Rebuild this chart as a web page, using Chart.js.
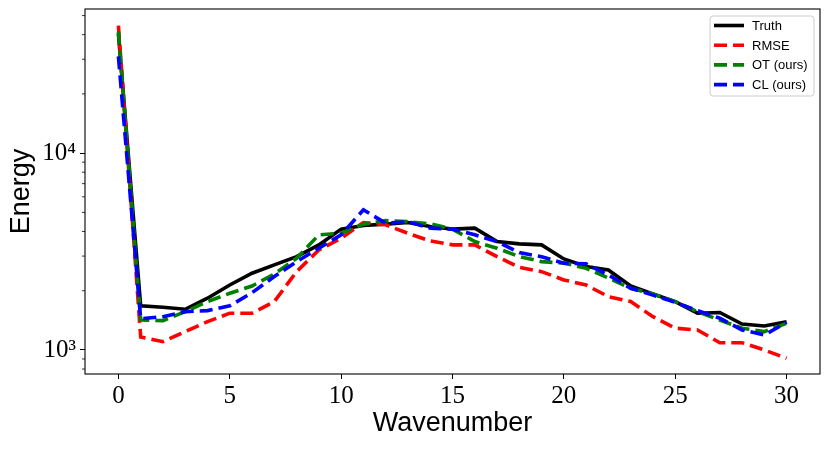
<!DOCTYPE html>
<html>
<head>
<meta charset="utf-8">
<script src="https://cdn.jsdelivr.net/npm/chart.js@4/dist/chart.umd.min.js"></script>
<style>
  body { margin: 0; background: #fff; }
  #wrap { width: 830px; height: 450px; }
</style>
</head>
<body>
<div id="wrap"><canvas id="energy-chart" width="830" height="450"></canvas></div>
<script>
// wavenumbers and energy spectra
const wavenumbers = [0,1,2,3,4,5,6,7,8,9,10,11,12,13,14,15,16,17,18,19,20,21,22,23,24,25,26,27,28,29,30];
const truth = [40500,1675,1650,1610,1832,2138,2454,2705,2979,3420,4111,4288,4357,4440,4237,4111,4160,3555,3459,3420,2900,2655,2550,2114,1926,1762,1538,1550,1355,1324,1393];
const rmse = [44400,1164,1102,1240,1393,1538,1538,1762,2500,3223,3699,4440,4324,3917,3580,3420,3420,2979,2631,2500,2270,2138,1866,1762,1476,1290,1264,1089,1089,1000,908];
const otOurs = [41500,1420,1409,1566,1762,1941,2114,2433,2924,3846,3917,4357,4543,4486,4374,4111,3555,3288,2979,2812,2761,2600,2318,2059,1926,1762,1566,1420,1290,1240,1367];
const clOurs = [31000,1440,1476,1566,1585,1675,1955,2360,2812,3288,3846,5154,4405,4486,4160,4111,3846,3555,3124,2979,2761,2738,2405,2059,1900,1745,1585,1449,1264,1192,1380];

const xTicks = [0,5,10,15,20,25,30];
const yMajorTicks = [1000,10000];
const yMinorTicks = [800,900,2000,3000,4000,5000,6000,7000,8000,9000,20000,30000,40000,50000];
const seriesNames = ["Truth","RMSE","OT (ours)","CL (ours)"];

const toPoints = (arr) => wavenumbers.map((x, i) => ({x: x, y: arr[i]}));

function makeSet(label, arr, color, dashed, order){
    return {
        label: label,
        data: toPoints(arr),
        borderColor: color,
        backgroundColor: color,
        borderWidth: 3.6,
        borderDash: dashed ? [13, 6] : [],
        pointRadius: 0,
        tension: 0,
        fill: false,
        order: order
    };
}

// axes frame, minor log ticks and the boxed legend inside the plot
const framePlugin = {
    id: 'frame',
    afterDatasetsDraw(chart){
        const {ctx, chartArea: a, scales} = chart;
        ctx.save();
        ctx.strokeStyle = '#000';
        ctx.lineWidth = 1.1;
        ctx.strokeRect(a.left, a.top, a.right - a.left, a.bottom - a.top);
        ctx.lineWidth = 0.8;
        for (const v of yMinorTicks){
            const y = scales.y.getPixelForValue(v);
            if (y < a.top || y > a.bottom) continue;
            ctx.beginPath();
            ctx.moveTo(a.left - 3, y);
            ctx.lineTo(a.left, y);
            ctx.stroke();
        }
        // legend
        const bx = 710, by = 16, bw = 104, bh = 80;
        ctx.fillStyle = 'rgba(255,255,255,0.85)';
        ctx.strokeStyle = '#cccccc';
        ctx.lineWidth = 1;
        ctx.beginPath();
        ctx.roundRect(bx, by, bw, bh, 3);
        ctx.fill();
        ctx.stroke();
        ctx.font = '13px "Liberation Sans", Arial, sans-serif';
        ctx.textBaseline = 'middle';
        ctx.textAlign = 'left';
        seriesNames.forEach((name, i) => {
            const ds = chart.data.datasets.find(d => d.label === name);
            const y = 25.5 + i * 19.7;
            ctx.strokeStyle = ds.borderColor;
            ctx.lineWidth = 3.6;
            ctx.setLineDash(ds.borderDash);
            ctx.beginPath();
            ctx.moveTo(714, y);
            ctx.lineTo(744, y);
            ctx.stroke();
            ctx.setLineDash([]);
            ctx.fillStyle = '#000';
            ctx.fillText(name, 752, y + 1);
        });
        ctx.restore();
    }
};

const config = {
    type: 'line',
    data: {
        datasets: [
            makeSet("Truth", truth, '#000000', false, 4),
            makeSet("RMSE", rmse, '#ff0000', true, 3),
            makeSet("OT (ours)", otOurs, '#008000', true, 2),
            makeSet("CL (ours)", clOurs, '#0000ff', true, 1)
        ]
    },
    options: {
        responsive: false,
        animation: false,
        layout: { padding: { top: 9, right: 10, left: 0, bottom: 0 } },
        plugins: { legend: { display: false }, tooltip: { enabled: false } },
        scales: {
            x: {
                type: 'linear',
                min: -1.5,
                max: 31.5,
                afterBuildTicks: (scale) => { scale.ticks = xTicks.map(v => ({value: v})); },
                afterFit: (scale) => { scale.height = 76; scale.paddingLeft = 0; scale.paddingRight = 0; },
                grid: { drawOnChartArea: false, tickLength: 5, color: '#000', tickWidth: 1 },
                border: { display: false },
                ticks: {
                    color: '#000',
                    padding: 2,
                    maxRotation: 0,
                    font: { family: '"Liberation Serif", "DejaVu Serif", serif', size: 25 }
                },
                title: {
                    display: true,
                    text: 'Wavenumber',
                    color: '#000',
                    padding: { bottom: 10 },
                    font: { family: '"Liberation Sans", Arial, sans-serif', size: 27 }
                }
            },
            y: {
                type: 'logarithmic',
                min: 755,
                max: 54000,
                afterBuildTicks: (scale) => { scale.ticks = yMajorTicks.map(v => ({value: v})); },
                afterFit: (scale) => { scale.width = 85; scale.paddingTop = 0; scale.paddingBottom = 0; },
                grid: { drawOnChartArea: false, tickLength: 5, color: '#000', tickWidth: 1 },
                border: { display: false },
                ticks: {
                    color: '#000',
                    padding: 4,
                    font: { family: '"Liberation Serif", "DejaVu Serif", serif', size: 25 },
                    callback: (v) => v === 1000 ? '10\u00B3' : (v === 10000 ? '10\u2074' : '')
                },
                title: {
                    display: true,
                    text: 'Energy',
                    color: '#000',
                    padding: { top: 5 },
                    font: { family: '"Liberation Sans", Arial, sans-serif', size: 27 }
                }
            }
        }
    },
    plugins: [framePlugin]
};

document.addEventListener('DOMContentLoaded', () => {
    new Chart("energy-chart", config);
});
</script>
</body>
</html>
